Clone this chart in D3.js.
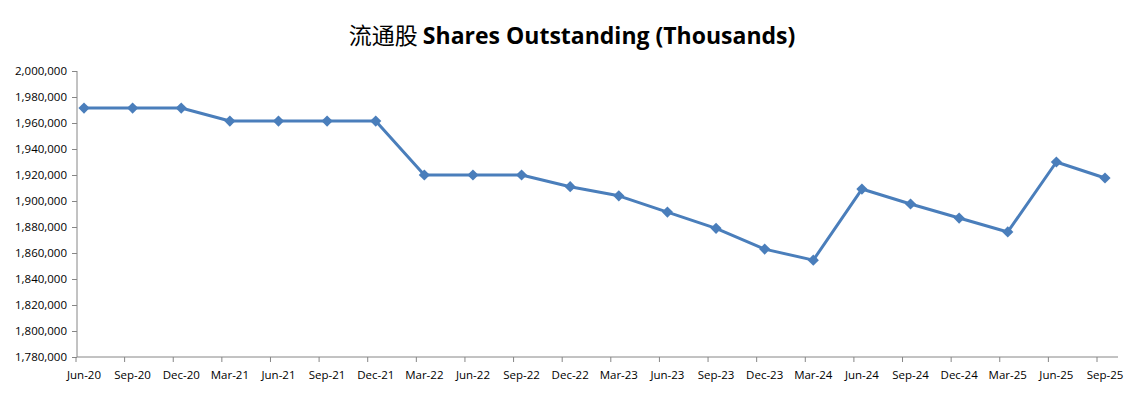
<!DOCTYPE html>
<html>
<head>
<meta charset="utf-8">
<script src="https://cdn.jsdelivr.net/npm/d3@7"></script>
<style>
  body { margin: 0; background: #fff; }
  .tick text { font-family: "Open Sans", "Liberation Sans", sans-serif; font-size: 11.5px; fill: #000; }
</style>
</head>
<body>
<div id="chart"></div>
<script>
// quarter labels + shares outstanding (thousands)
var quarters = ["Jun-20", "Sep-20", "Dec-20", "Mar-21", "Jun-21", "Sep-21", "Dec-21",
  "Mar-22", "Jun-22", "Sep-22", "Dec-22", "Mar-23", "Jun-23", "Sep-23", "Dec-23",
  "Mar-24", "Jun-24", "Sep-24", "Dec-24", "Mar-25", "Jun-25", "Sep-25"];
var shares = [1971500, 1971500, 1971500, 1961500, 1961500, 1961500, 1961500,
  1920000, 1920000, 1920000, 1911000, 1904000, 1891500, 1879000, 1863000,
  1854500, 1909200, 1897700, 1886900, 1876200, 1930000, 1917700];
var yTicks = [1780000, 1800000, 1820000, 1840000, 1860000, 1880000, 1900000,
  1920000, 1940000, 1960000, 1980000, 2000000];

var width = 1145,
    height = 393;

var svg = d3.select("#chart")
    .append("svg")
    .attr("width", width)
    .attr("height", height);

// title
var title = svg.append("text")
    .attr("x", 572)
    .attr("y", 44)
    .attr("text-anchor", "middle")
    .style("font-size", "23px")
    .style("font-weight", "bold")
    .style("fill", "#000");
title.append("tspan")
    .style("font-family", "'Noto Sans CJK SC', sans-serif")
    .style("font-weight", "normal")
    .text("流通股 ");
title.append("tspan")
    .style("font-family", "'Open Sans', sans-serif")
    .text("Shares Outstanding (Thousands)");

var axisLeft = 77, axisRight = 1118;

var y = d3.scaleLinear()
    .domain([1780000, 2000000])
    .range([357, 71]);

var x = d3.scaleLinear()
    .domain([0, quarters.length - 1])
    .range([84, 1105]);

var axisColor = "#868686";

// y axis
var yAxis = svg.append("g")
    .attr("transform", "translate(" + axisLeft + ",0)")
    .call(d3.axisLeft(y).tickValues(yTicks).tickSize(5).tickPadding(5)
        .tickFormat(d3.format(",")));
yAxis.select(".domain").attr("stroke", axisColor).attr("d", "M0," + y(1780000) + "V" + y(2000000));
yAxis.selectAll(".tick line").attr("stroke", axisColor);

// x axis (ticks sit a little left of the points, as in the original)
var xAxis = svg.append("g")
    .attr("transform", "translate(0," + y(1780000) + ")");
xAxis.append("line")
    .attr("x1", axisLeft).attr("x2", axisRight)
    .attr("stroke", axisColor);
xAxis.selectAll(".xt")
    .data(quarters)
    .enter()
    .append("line")
    .attr("class", "xt")
    .attr("x1", (d, i) => x(i) - 8)
    .attr("x2", (d, i) => x(i) - 8)
    .attr("y1", 0).attr("y2", 5)
    .attr("stroke", axisColor);
xAxis.selectAll(".xl")
    .data(quarters)
    .enter()
    .append("text")
    .attr("x", (d, i) => x(i))
    .attr("y", 22)
    .attr("text-anchor", "middle")
    .style("font-family", "'Open Sans', 'Liberation Sans', sans-serif")
    .style("font-size", "11.5px")
    .text(d => d);

// line
var line = d3.line()
    .x((d, i) => x(i))
    .y(d => y(d));

svg.append("path")
    .datum(shares)
    .attr("fill", "none")
    .attr("stroke", "#4a7ebb")
    .attr("stroke-width", 3)
    .attr("stroke-linejoin", "round")
    .attr("d", line);

// diamond markers
svg.selectAll(".pt")
    .data(shares)
    .enter()
    .append("path")
    .attr("class", "pt")
    .attr("d", d3.symbol().type(d3.symbolDiamond2).size(80))
    .attr("transform", (d, i) => "translate(" + x(i) + "," + y(d) + ")")
    .attr("fill", "#4a7ebb");
</script>
</body>
</html>
